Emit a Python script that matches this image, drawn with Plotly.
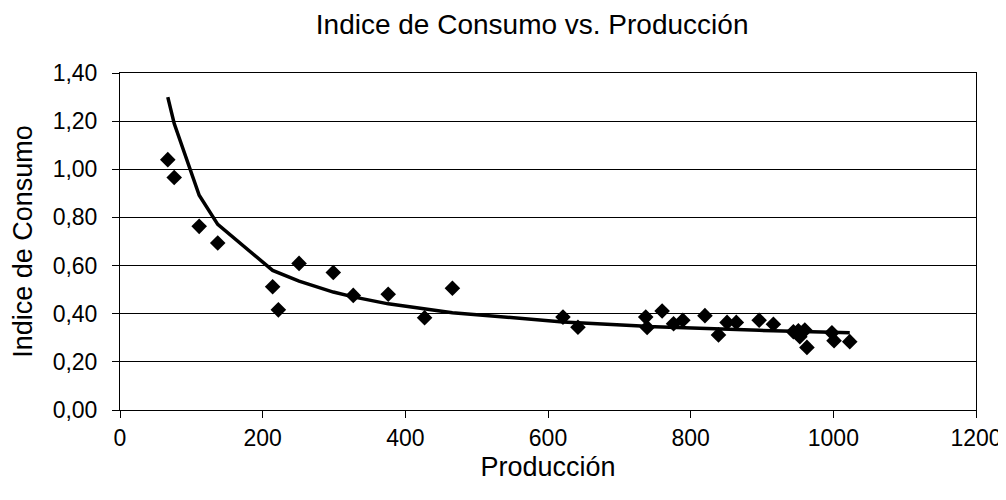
import plotly.graph_objects as go

# Measured data points (Producción, Indice de Consumo)
produccion = [67, 76, 111, 137, 214, 222, 251, 299, 327, 376, 427, 466,
              621, 642, 737, 739, 760, 776, 789, 820, 839, 851, 864, 896,
              916, 944, 951, 953, 960, 963, 998, 1001, 1023]
indice = [1.040, 0.966, 0.763, 0.694, 0.512, 0.416, 0.609, 0.571, 0.476, 0.481,
          0.383, 0.506, 0.386, 0.344, 0.386, 0.343, 0.411, 0.358, 0.373, 0.392,
          0.312, 0.364, 0.364, 0.373, 0.356, 0.325, 0.329, 0.304, 0.332, 0.260,
          0.321, 0.288, 0.284]

# Fitted curve values, at the same production values
ajuste = [1.300, 1.190, 0.892, 0.771, 0.580, 0.570, 0.535, 0.490, 0.470, 0.441,
          0.418, 0.404, 0.366, 0.362, 0.348, 0.347, 0.345, 0.343, 0.341, 0.338,
          0.336, 0.335, 0.334, 0.331, 0.329, 0.327, 0.326, 0.326, 0.325, 0.325,
          0.323, 0.322, 0.321]

y_ticks = [0, 0.2, 0.4, 0.6, 0.8, 1.0, 1.2, 1.4]
x_ticks = [0, 200, 400, 600, 800, 1000, 1200]

FONT = "Liberation Sans, Arial, sans-serif"

fig = go.Figure()
fig.add_trace(go.Scatter(
    x=produccion, y=indice, mode="markers",
    marker=dict(symbol="diamond", size=12, color="black"),
    showlegend=False, cliponaxis=False,
))
fig.add_trace(go.Scatter(
    x=produccion, y=ajuste, mode="lines",
    line=dict(color="black", width=3.5),
    showlegend=False,
))

fig.update_layout(
    width=1006, height=500,
    margin=dict(l=112, r=36, t=65, b=98),
    paper_bgcolor="white", plot_bgcolor="white",
    separators=",.",
    font=dict(family=FONT, color="black", size=22),
    title=dict(text="Indice de Consumo vs. Producción",
               x=0.521, xref="container", xanchor="center",
               y=0.968, yref="container", yanchor="middle",
               font=dict(size=28, family=FONT, color="black")),
    xaxis=dict(
        range=[0, 1200], tickvals=x_ticks, tickformat="d",
        showgrid=False, zeroline=False,
        showline=True, linecolor="black", linewidth=1, mirror=True,
        ticks="outside", ticklen=7, tickcolor="black", tickwidth=1,
        ticklabelstandoff=0,
        tickfont=dict(size=23, family=FONT, color="black"),
        title=dict(text="Producción", standoff=7,
                   font=dict(size=27, family=FONT, color="black")),
    ),
    yaxis=dict(
        range=[0, 1.4], tickvals=y_ticks, tickformat=".2f",
        showgrid=True, gridcolor="black", gridwidth=1, zeroline=False,
        showline=True, linecolor="black", linewidth=1, mirror=True,
        ticks="outside", ticklen=7, tickcolor="black", tickwidth=1,
        ticklabelstandoff=10,
        tickfont=dict(size=23, family=FONT, color="black"),
        title=dict(text="Indice de Consumo", standoff=14,
                   font=dict(size=27, family=FONT, color="black")),
    ),
)

fig.write_html("out.html")
